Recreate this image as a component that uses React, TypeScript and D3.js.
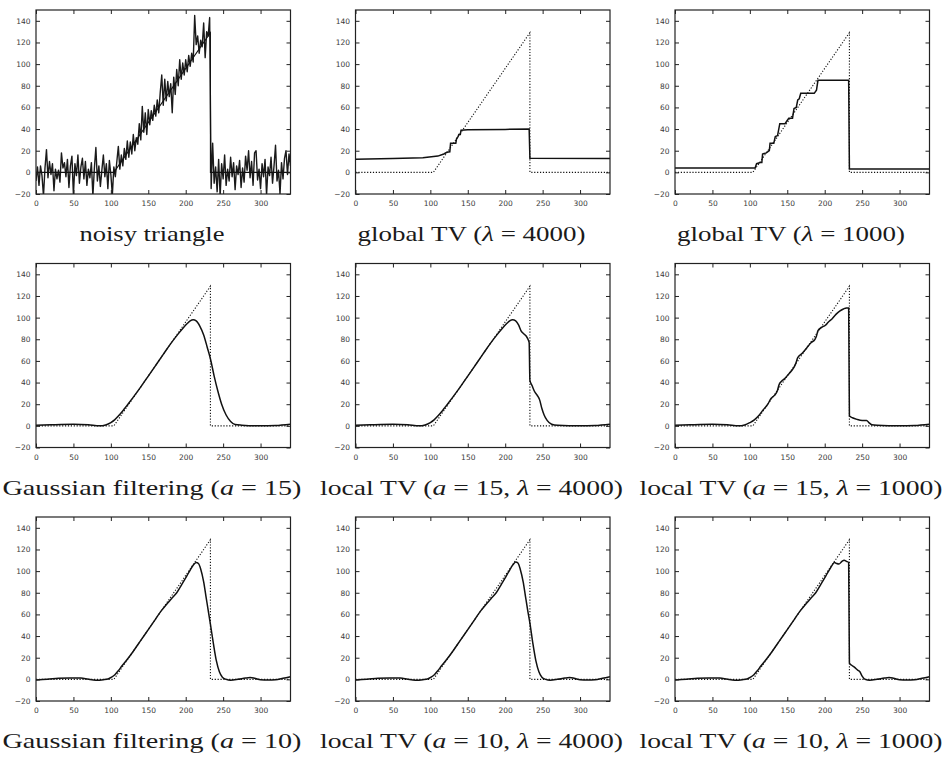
import React, { useEffect, useRef } from 'react'
import * as d3 from 'd3'

// axes shared by all nine panels
const X_DOMAIN = [0, 340]
const Y_DOMAIN = [-20, 150]
const X_TICKS = [0, 50, 100, 150, 200, 250, 300]
const Y_TICKS = [-20, 0, 20, 40, 60, 80, 100, 120, 140]

// the clean triangle (dotted reference)
const triangle: [number, number][] = [[0, 0], [104, 0], [233, 129], [233, 0], [340, 0]]

// noisy input, sampled every 2 units from x = 0 to 340
const noisyX = d3.range(0, 341, 2)
const noisyY = [
  -8, 5, -12, 6, -3, -22, 4, 21, -5, 10, -2, 8, -17, 3, -6, 2, -9, 18, 4, 9,
  -4, 12, -14, 6, 15, -21, 8, -3, 16, -10, 5, 13, -6, 10, -12, 3, -5, 9, -22, 4,
  23, -8, 6, -13, 2, 16, -4, 8, -15, 11, -2, -21, 5,
  -4, 10, 24, 3, 16, 6, 22, 12, 29, 14, 28, 17, 35, 20, 32, 26, 45, 30, 61, 37,
  55, 35, 58, 44, 57, 48, 62, 52, 67, 55, 74, 90, 62, 86, 66, 84, 70, 82, 55, 88,
  72, 95, 80, 104, 86, 101, 90, 104, 93, 108, 98, 110, 102, 145, 118, 126, 110, 122, 116, 138,
  106, 130, 126, 143,
  -15, 27, -10, 5, -18, 12, -22, 8, -6, 16, -12, 3, -8, 14, -4, 9, -16, 6, -2, 11,
  -14, 4, -9, 15, 2, 20, -5, 10, -12, 18, 20, -7, 3, -15, 8, -4, 12, -21, 5, -3,
  14, -10, 6, 25, -8, 2, -20, 9, -6, 13, 20, -2, 17, 6,
]
const noisy: [number, number][] = noisyX.map((x, i) => [x, noisyY[i]])

const globalTV4000: [number, number][] = [
  [0, 12], [50, 12.7], [90, 13.5], [110, 15], [118, 17], [122, 18.5], [126, 19], [127, 27], [134, 27],
  [135, 31], [137, 33], [138, 35], [140, 35], [141, 39], [150, 39.3], [200, 39.7], [232, 40], [233, 13], [340, 12.7],
]

const globalTV1000: [number, number][] = [
  [0, 4], [107, 4], [109, 8], [114, 9], [116, 9], [117, 17], [122, 18], [126, 20], [127, 27], [132, 27],
  [134, 33], [137, 34], [140, 45], [147, 45], [149, 47], [152, 50], [157, 50], [159, 59], [162, 60], [164, 67],
  [166, 68], [168, 73], [186, 73], [189, 76], [191, 85], [232, 85], [233, 3], [340, 3],
]

const gauss15: [number, number][] = [
  [0, 0.5], [20, 1], [50, 1.5], [70, 1], [85, 0], [93, 0.8], [100, 3], [105, 5.5], [110, 9], [115, 13],
  [120, 17.5], [130, 26.5], [140, 36], [150, 46], [160, 56], [170, 66], [180, 76], [190, 85], [196, 90], [202, 94.5],
  [206, 97], [210, 98], [214, 97], [219, 92], [224, 84], [229, 72], [233, 62], [238, 46], [243, 32], [248, 20],
  [254, 10], [260, 4], [266, 1.2], [275, 0.6], [300, 0], [320, 0.3], [340, 1.5],
]

const localTV15_4000: [number, number][] = [
  [0, 0.5], [20, 1], [50, 1.5], [70, 1], [85, 0], [93, 0.8], [100, 3], [105, 5.5], [110, 9], [115, 13],
  [120, 17.5], [130, 26.5], [140, 36], [150, 46], [160, 56], [170, 66], [180, 76], [190, 85], [196, 90], [202, 94.5],
  [206, 97], [210, 98], [214, 97], [218, 93], [221, 88], [224, 85.5], [228, 83], [231, 79], [232, 77], [233, 42],
  [236, 37], [239, 32], [243, 28], [246, 24], [249, 16], [252, 10], [256, 5], [262, 1.5], [270, 0.5], [300, 0],
  [320, 0.3], [340, 1.5],
]

const localTV15_1000: [number, number][] = [
  [0, 0.5], [20, 1], [50, 1.5], [70, 1], [85, 0], [93, 0.8], [100, 3], [106, 5.5], [112, 9.5], [118, 15],
  [124, 20], [128, 25], [131, 27], [134, 29], [137, 33], [139, 38], [142, 41], [147, 44], [152, 48], [158, 53],
  [161, 57], [164, 63], [170, 67], [176, 72], [182, 77], [187, 80], [189, 83], [191, 88], [196, 91], [201, 93],
  [205, 96], [210, 99], [215, 103], [220, 106], [225, 108], [229, 109], [232, 109], [233, 9], [237, 7.5], [243, 6],
  [250, 5], [256, 5], [259, 3], [263, 1], [270, 0.5], [300, 0], [320, 0.3], [340, 1.5],
]

const gauss10: [number, number][] = [
  [0, -0.5], [15, 0], [30, 1], [45, 1.3], [60, 1.2], [70, 0], [80, -0.8], [90, -0.3], [97, 0.6], [101, 2],
  [105, 4], [110, 8], [115, 12.5], [122, 18.5], [130, 26], [140, 36], [150, 46], [160, 56], [167, 63], [174, 69],
  [181, 74.5], [188, 80], [195, 88], [201, 95], [206, 101], [210, 105.5], [214, 108], [217, 107], [220, 102], [224, 90],
  [227, 77], [230, 64], [233, 51], [237, 33], [241, 17], [245, 7], [249, 2], [254, 0], [260, -0.8], [270, 0],
  [280, 1.2], [286, 1.6], [292, 1], [300, -0.3], [310, -0.6], [320, -0.3], [330, 1], [340, 2.5],
]

const localTV10_4000: [number, number][] = [
  [0, -0.5], [15, 0], [30, 1], [45, 1.3], [60, 1.2], [70, 0], [80, -0.8], [90, -0.3], [97, 0.6], [101, 2],
  [105, 4], [110, 8], [115, 12.5], [122, 18.5], [130, 26], [140, 36], [150, 46], [160, 56], [167, 63], [174, 69],
  [181, 74.5], [188, 80], [195, 88], [201, 95], [206, 101], [210, 105.5], [214, 108.5], [217, 107.5], [220, 102], [224, 90],
  [227, 77], [230, 64], [233, 52], [237, 33], [241, 17], [245, 7], [249, 2], [254, 0], [260, -0.8], [270, 0],
  [280, 1.2], [286, 1.6], [292, 1], [300, -0.3], [310, -0.6], [320, -0.3], [330, 1], [340, 2.5],
]

const localTV10_1000: [number, number][] = [
  [0, -0.5], [15, 0], [30, 1], [45, 1.3], [60, 1.2], [70, 0], [80, -0.8], [90, -0.3], [97, 0.6], [101, 2],
  [105, 4], [110, 8], [115, 12.5], [122, 18.5], [130, 26], [140, 36], [150, 46], [160, 56], [167, 63], [174, 69],
  [181, 74.5], [188, 80], [195, 88], [201, 95], [206, 101], [210, 105.5], [213, 108], [216, 107], [219, 106.5], [223, 109],
  [226, 110], [229, 109], [232, 108], [233, 15], [236, 13], [240, 11], [244, 8.5], [247, 7], [250, 3], [254, 0],
  [260, -0.8], [270, 0], [280, 1.2], [286, 1.6], [292, 1], [300, -0.3], [310, -0.6], [320, -0.3], [330, 1], [340, 2.5],
]

// caption pieces: [text, italic?]
type Piece = [string, boolean]
const captions: Piece[][] = [
  [['noisy triangle', false]],
  [['global TV (', false], ['λ', true], ['\u00a0=\u00a0', false], ['4000)', false]],
  [['global TV (', false], ['λ', true], ['\u00a0=\u00a0', false], ['1000)', false]],
  [['Gaussian filtering (', false], ['a', true], ['\u00a0=\u00a0', false], ['15)', false]],
  [['local TV (', false], ['a', true], ['\u00a0=\u00a015, ', false], ['λ', true], ['\u00a0=\u00a0', false], ['4000)', false]],
  [['local TV (', false], ['a', true], ['\u00a0=\u00a015, ', false], ['λ', true], ['\u00a0=\u00a0', false], ['1000)', false]],
  [['Gaussian filtering (', false], ['a', true], ['\u00a0=\u00a0', false], ['10)', false]],
  [['local TV (', false], ['a', true], ['\u00a0=\u00a010, ', false], ['λ', true], ['\u00a0=\u00a0', false], ['4000)', false]],
  [['local TV (', false], ['a', true], ['\u00a0=\u00a010, ', false], ['λ', true], ['\u00a0=\u00a0', false], ['1000)', false]],
]
const captionWidths = [145, 228, 228, 299, 303, 303, 299, 303, 303]

const seriesList = [noisy, globalTV4000, globalTV1000, gauss15, localTV15_4000, localTV15_1000, gauss10, localTV10_4000, localTV10_1000]
const smoothPanels = [false, false, false, true, true, true, true, true, true]

const W = 254.5
const H = 184
const LEFTS = [36, 355.5, 675]
const TOPS = [10, 263.5, 517]
const CAPTION_CENTERS = [152, 471.5, 791]

function Panel({ idx }: { idx: number }) {
  const col = idx % 3
  const row = Math.floor(idx / 3)
  const left = LEFTS[col]
  const top = TOPS[row]
  const x = d3.scaleLinear().domain(X_DOMAIN).range([0, W])
  const y = d3.scaleLinear().domain(Y_DOMAIN).range([H, 0])
  const bottomRef = useRef<SVGGElement>(null)
  const leftRef = useRef<SVGGElement>(null)
  const topRef = useRef<SVGGElement>(null)
  const rightRef = useRef<SVGGElement>(null)

  useEffect(() => {
    const style = (g: any) => {
      g.select('.domain').remove()
      g.attr('font-family', 'DejaVu Sans').attr('font-size', 7.5)
      g.selectAll('text').attr('fill', '#3a3a3a')
      g.selectAll('line').attr('stroke', '#222').attr('stroke-width', 1)
    }
    d3.select(bottomRef.current).call(d3.axisBottom(x).tickValues(X_TICKS).tickSize(-4).tickPadding(7)).call(style)
    d3.select(leftRef.current).call(d3.axisLeft(y).tickValues(Y_TICKS).tickSize(-4).tickPadding(5.5)).call(style)
    d3.select(topRef.current).call(d3.axisTop(x).tickValues(X_TICKS).tickSize(-4).tickFormat(() => '')).call(style)
    d3.select(rightRef.current).call(d3.axisRight(y).tickValues(Y_TICKS).tickSize(-4).tickFormat(() => '')).call(style)
  }, [])

  const line = d3.line<[number, number]>().x(d => x(d[0])).y(d => y(d[1]))
  const smooth = d3.line<[number, number]>().x(d => x(d[0])).y(d => y(d[1])).curve(d3.curveMonotoneX)
  const data = seriesList[idx]
  const clipId = `clip-${idx}`

  return (
    <g transform={`translate(${left},${top})`}>
      <defs>
        <clipPath id={clipId}>
          <rect x={0} y={0} width={W} height={H} />
        </clipPath>
      </defs>
      <g clipPath={`url(#${clipId})`}>
        {idx === 0 ? (
          <>
            <path d={line(noisy) || ''} fill="none" stroke="#1a1a1a" strokeWidth={1.4} strokeLinejoin="round" />
            <path d={line(triangle) || ''} fill="none" stroke="#111" strokeWidth={1.1} />
          </>
        ) : (
          <>
            <path d={line(triangle) || ''} fill="none" stroke="#111" strokeWidth={1.1} strokeDasharray="1.2,1.7" />
            <path d={(smoothPanels[idx] ? smooth(data) : line(data)) || ''} fill="none" stroke="#111" strokeWidth={1.5} />
          </>
        )}
      </g>
      <rect x={0} y={0} width={W} height={H} fill="none" stroke="#222" strokeWidth={1.2} />
      <g ref={bottomRef} transform={`translate(0,${H})`} />
      <g ref={leftRef} />
      <g ref={topRef} />
      <g ref={rightRef} transform={`translate(${W},0)`} />
      <text
        x={CAPTION_CENTERS[col] - left}
        y={231}
        textAnchor="middle"
        fontFamily="Liberation Serif"
        fontSize={21}
        fill="#1a1a1a"
        textLength={captionWidths[idx]}
        lengthAdjust="spacingAndGlyphs"
      >
        {captions[idx].map((p, i) => (
          <tspan key={i} fontStyle={p[1] ? 'italic' : 'normal'}>{p[0]}</tspan>
        ))}
      </text>
    </g>
  )
}

export default function App() {
  return (
    <svg width={943} height={760} style={{ position: 'absolute', left: 0, top: 0, background: '#fff' }}>
      {d3.range(9).map(i => <Panel key={i} idx={i} />)}
    </svg>
  )
}
